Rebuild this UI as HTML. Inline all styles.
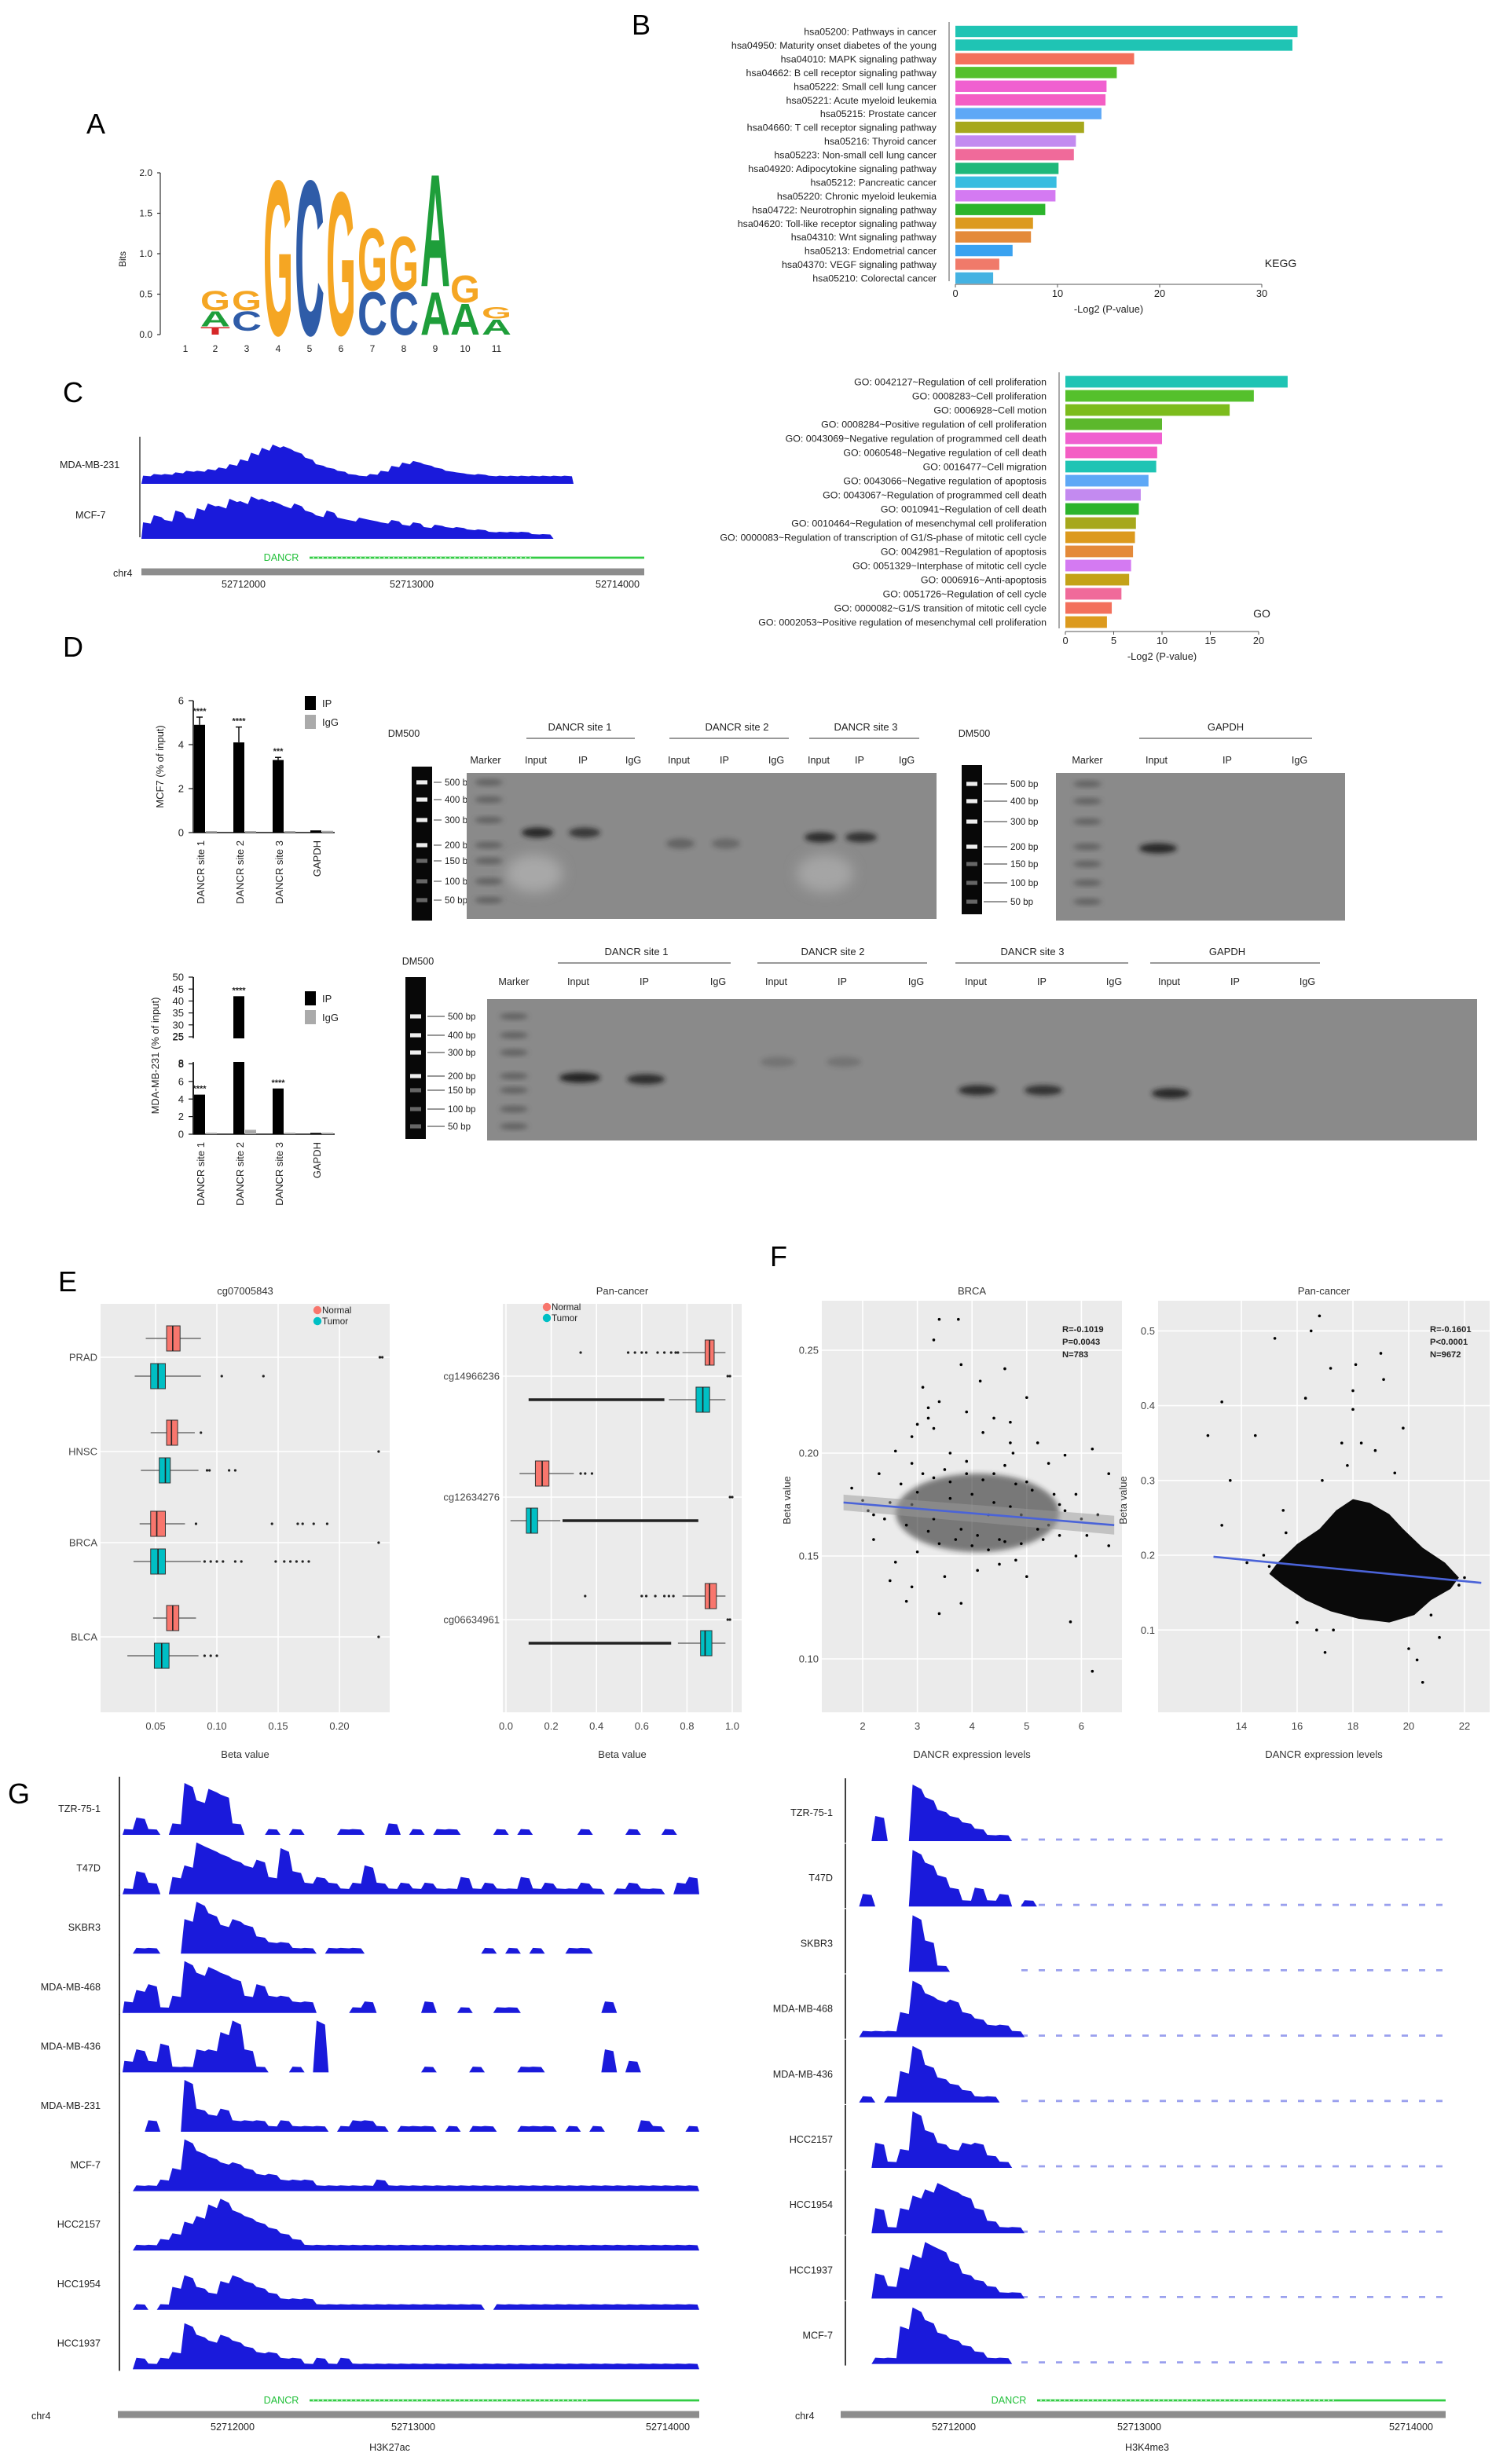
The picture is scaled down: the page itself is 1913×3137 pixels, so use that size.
<!DOCTYPE html>
<html><head><meta charset="utf-8">
<style>
html,body{margin:0;padding:0;background:#fff;}
svg{display:block;font-family:"Liberation Sans",sans-serif;}
</style></head>
<body>
<svg id="fig" width="1913" height="3137" viewBox="0 0 956.5 1568.5" preserveAspectRatio="none" xmlns="http://www.w3.org/2000/svg">
<defs>
<filter id="blur1" x="-50%" y="-50%" width="200%" height="200%"><feGaussianBlur stdDeviation="1.6"/></filter>
<filter id="blur2" x="-50%" y="-50%" width="200%" height="200%"><feGaussianBlur stdDeviation="4"/></filter>
</defs>
</svg>
<script>
// ---------------- DATA ----------------
const keggLabels=["hsa05200: Pathways in cancer","hsa04950: Maturity onset diabetes of the young","hsa04010: MAPK signaling pathway","hsa04662: B cell receptor signaling pathway","hsa05222: Small cell lung cancer","hsa05221: Acute myeloid leukemia","hsa05215: Prostate cancer","hsa04660: T cell receptor signaling pathway","hsa05216: Thyroid cancer","hsa05223: Non-small cell lung cancer","hsa04920: Adipocytokine signaling pathway","hsa05212: Pancreatic cancer","hsa05220: Chronic myeloid leukemia","hsa04722: Neurotrophin signaling pathway","hsa04620: Toll-like receptor signaling pathway","hsa04310: Wnt signaling pathway","hsa05213: Endometrial cancer","hsa04370: VEGF signaling pathway","hsa05210: Colorectal cancer"];
const keggValues=[33.5,33,17.5,15.8,14.8,14.7,14.3,12.6,11.8,11.6,10.1,9.9,9.8,8.8,7.6,7.4,5.6,4.3,3.7];
const keggColors=["#1fc4b4","#1fc4b4","#f3705c","#55c02c","#f060d0","#f45ec4","#5ea8f6","#a6a81c","#c38af0","#f06a9a","#1fb87a","#38bde0","#d47af2","#2cb42c","#dc9a1e","#e48a3a","#3aa2f0","#f07a6a","#44b2e2"];
const keggTicks=[0,10,20,30];

const goLabels=["GO: 0042127~Regulation of cell proliferation","GO: 0008283~Cell proliferation","GO: 0006928~Cell motion","GO: 0008284~Positive regulation of cell proliferation","GO: 0043069~Negative regulation of programmed cell death","GO: 0060548~Negative regulation of cell death","GO: 0016477~Cell migration","GO: 0043066~Negative regulation of apoptosis","GO: 0043067~Regulation of programmed cell death","GO: 0010941~Regulation of cell death","GO: 0010464~Regulation of mesenchymal cell proliferation","GO: 0000083~Regulation of transcription of G1/S-phase of mitotic cell cycle","GO: 0042981~Regulation of apoptosis","GO: 0051329~Interphase of mitotic cell cycle","GO: 0006916~Anti-apoptosis","GO: 0051726~Regulation of cell cycle","GO: 0000082~G1/S transition of mitotic cell cycle","GO: 0002053~Positive regulation of mesenchymal cell proliferation"];
const goValues=[23,19.5,17,10,10,9.5,9.4,8.6,7.8,7.6,7.3,7.2,7,6.8,6.6,5.8,4.8,4.3];
const goColors=["#1fc4b4","#55c02c","#7cbc1c","#5cb82c","#f060d0","#f45ec4","#1fc4b4","#5ea8f6","#c38af0","#2cb42c","#a6a81c","#dc9a1e","#e48a3a","#d47af2","#c4a218","#f06a9a","#f3705c","#dc9a1e"];
const goTicks=[0,5,10,15,20];

const qpcrCats=["DANCR site 1","DANCR site 2","DANCR site 3","GAPDH"];
const mcf7IP=[4.9,4.1,3.3,0.1];
const mcf7IgG=[0.05,0.05,0.05,0.08];
const mcf7Err=[0.35,0.7,0.12,0];
const mcf7Stars=["****","****","***",""];
const mdaIP=[4.5,42,5.2,0.15];
const mdaIgG=[0.1,0.5,0.05,0.1];
const mdaStars=["****","****","****",""];

const boxCatsL=["PRAD","HNSC","BRCA","BLCA"];
// [whiskerLo, q1, median, q3, whiskerHi]
const boxNormalL=[[0.042,0.059,0.064,0.070,0.087],[0.046,0.059,0.063,0.068,0.082],[0.037,0.046,0.051,0.058,0.074],[0.048,0.059,0.064,0.069,0.083]];
const boxTumorL=[[0.033,0.046,0.052,0.058,0.087],[0.038,0.053,0.058,0.062,0.085],[0.032,0.046,0.052,0.058,0.087],[0.027,0.049,0.055,0.061,0.085]];
const outNormalL=[[0.233,0.235],[0.087],[0.083,0.145,0.166,0.17,0.179,0.19],[]];
const outTumorL=[[0.104,0.138,0.233],[0.092,0.094,0.11,0.115,0.232],[0.09,0.095,0.1,0.105,0.115,0.12,0.148,0.155,0.16,0.165,0.17,0.175,0.232],[0.09,0.095,0.1,0.232]];
const ticksL=[0.05,0.10,0.15,0.20];

const boxCatsR=["cg14966236","cg12634276","cg06634961"];
const boxNormalR=[[0.78,0.88,0.9,0.92,0.97],[0.06,0.13,0.16,0.19,0.30],[0.78,0.88,0.9,0.93,0.97]];
const boxTumorR=[[0.72,0.84,0.87,0.9,0.97],[0.02,0.09,0.11,0.14,0.24],[0.76,0.86,0.88,0.91,0.97]];
const outNormalR=[[0.33,0.54,0.57,0.6,0.62,0.67,0.7,0.73,0.75,0.76,0.98,0.99],[0.33,0.35,0.38,0.99,1.0],[0.35,0.6,0.62,0.66,0.7,0.72,0.74,0.98,0.99]];
const outTumorRange=[[0.1,0.7],[0.25,0.85],[0.1,0.73]];
const ticksR=[0,0.2,0.4,0.6,0.8,1.0];

const brcaX=[3.4,3.75,3.3,3.8,4.6,4.15,3.1,5,3.4,3.2,3.9,4.4,3.2,3.0,4.7,3.3,4.2,2.9,5.2,4.7,6.2,2.6,3.6,4.75,5.7,2.9,5.4,6.5,1.8,5.9,2.2,2.6,2.5,2.9,2.8,3.8,3.4,5.8,6.2,6.1,6.5,5.9,3.0,4.5,4.1,5.0,3.5,4.8,2.3,2.5,2.7,2.8,3.1,3.3,3.5,3.6,3.7,3.9,4.0,4.2,4.3,4.4,4.6,4.8,4.9,5.1,5.3,5.5,5.6,2.4,3.2,3.4,4.1,4.5,5.0,5.2,2.2,2.9,3.8,4.4,4.9,5.4,3.6,4.0,4.3,4.7,3.0,3.3,5.7,6.0,2.0,2.1,6.3,5.6,3.9,4.6];
const brcaY=[0.265,0.265,0.255,0.243,0.241,0.235,0.232,0.227,0.225,0.222,0.22,0.217,0.217,0.214,0.215,0.212,0.21,0.208,0.205,0.205,0.202,0.201,0.2,0.2,0.199,0.195,0.195,0.19,0.183,0.18,0.158,0.147,0.138,0.135,0.128,0.127,0.122,0.118,0.094,0.16,0.155,0.15,0.152,0.146,0.143,0.14,0.14,0.148,0.19,0.176,0.185,0.165,0.19,0.188,0.192,0.186,0.158,0.19,0.155,0.187,0.153,0.19,0.157,0.185,0.156,0.182,0.158,0.18,0.16,0.168,0.162,0.156,0.16,0.158,0.186,0.163,0.17,0.175,0.163,0.176,0.17,0.165,0.178,0.18,0.17,0.174,0.181,0.168,0.172,0.168,0.177,0.172,0.17,0.175,0.196,0.194];
const brcaStats=["R=-0.1019","P=0.0043","N=783"];
const brcaFit=[0.176,0.165];
const brcaXTicks=[2,3,4,5,6];
const brcaYTicks=[0.10,0.15,0.20,0.25];

const panX=[16.8,15.2,16.5,19.0,18.1,17.2,19.1,16.3,13.3,18.0,18.0,19.8,12.8,14.5,17.6,18.3,13.6,15.5,13.3,16.7,17.0,20.3,20.0,20.5,21.1,16.0,17.3,14.8,15.0,22.0,21.8,19.5,18.8,17.8,16.9,20.8,14.2,15.6];
const panY=[0.52,0.49,0.5,0.47,0.455,0.45,0.435,0.41,0.405,0.42,0.395,0.37,0.36,0.36,0.35,0.35,0.3,0.26,0.24,0.1,0.07,0.06,0.075,0.03,0.09,0.11,0.1,0.2,0.185,0.17,0.16,0.31,0.34,0.32,0.3,0.12,0.19,0.23];
const panStats=["R=-0.1601","P<0.0001","N=9672"];
const panFit=[0.198,0.163];
const panXTicks=[14,16,18,20,22];
const panYTicks=[0.1,0.2,0.3,0.4,0.5];
// density core outline of the pan-cancer scatter (x expression, y beta)
const panCoreX=[15.3,16,16.8,17.4,18,18.6,19.3,19.8,20.5,21.3,21.8,21.5,20.8,20.2,19.3,18.2,17.2,16.3,15.5,15.0];
const panCoreY=[0.19,0.215,0.235,0.26,0.275,0.27,0.255,0.235,0.21,0.19,0.17,0.155,0.14,0.12,0.11,0.115,0.125,0.14,0.16,0.175];

const trackNamesL=["TZR-75-1","T47D","SKBR3","MDA-MB-468","MDA-MB-436","MDA-MB-231","MCF-7","HCC2157","HCC1954","HCC1937"];
const trackDataL=[
[1,3,1,0,2,9,6,8,7,2,0,0,1,0,1,0,0,0,1,1,0,0,2,0,1,0,1,1,0,0,0,1,0,1,0,0,0,0,1,0,0,0,1,0,0,1,0,0],
[1,4,2,0,3,5,9,8,7,6,5,6,3,8,4,2,3,2,1,2,5,2,1,2,1,2,1,1,3,1,2,1,1,3,1,2,1,1,2,1,0,1,2,1,1,0,2,3],
[0,1,1,0,0,6,9,7,5,6,5,3,2,2,1,1,0,1,1,1,0,0,0,0,0,0,0,0,0,0,1,0,1,0,1,0,0,1,1,0,0,0,0,0,0,0,0,0],
[2,4,5,1,3,9,7,8,7,6,3,5,3,3,2,2,0,0,0,1,2,0,0,0,0,2,0,0,1,0,0,1,1,0,0,0,0,0,0,0,2,0,0,0,0,0,0,0],
[2,4,2,5,1,1,4,4,7,9,4,1,0,0,1,0,9,0,0,0,0,0,0,0,0,1,0,0,0,1,0,0,0,1,1,0,0,0,0,0,4,0,2,0,0,0,0,0],
[0,0,2,0,0,9,4,3,4,2,2,2,1,2,1,1,1,0,1,2,2,1,0,1,1,1,0,1,0,1,1,0,0,1,1,1,0,1,0,1,0,0,0,2,1,0,0,1],
[0,1,1,2,4,9,7,6,5,5,4,3,3,2,2,2,1,1,1,1,1,2,1,1,1,1,1,1,1,1,1,1,1,1,1,1,1,1,1,1,1,1,1,1,1,1,1,1],
[0,1,1,2,3,5,6,8,9,7,6,5,4,3,2,1,1,1,1,1,1,1,1,1,1,1,1,1,1,1,1,1,1,1,1,1,1,1,1,1,1,1,1,1,1,1,1,1],
[0,1,0,1,4,6,4,3,5,6,5,4,3,2,2,2,1,1,1,1,1,1,1,1,1,1,1,1,1,1,0,1,1,1,1,1,1,1,1,1,1,1,1,1,1,1,1,1],
[0,2,1,2,3,8,6,5,6,5,4,3,3,2,2,1,2,1,2,1,1,1,1,1,1,1,1,1,1,1,1,1,1,1,1,1,1,1,1,1,1,1,1,1,1,1,1,1]];
const trackNamesR=["TZR-75-1","T47D","SKBR3","MDA-MB-468","MDA-MB-436","HCC2157","HCC1954","HCC1937","MCF-7"];
const trackDataR=[
[0,0,4,0,0,9,7,5,4,3,2,1,1,0,0,0,0,0,0,0,0,0,0,0,0,0,0,0,0,0,0,0,0,0,0,0,0,0,0,0,0,0,0,0,0,0,0,0],
[0,2,0,0,0,9,7,5,3,1,3,1,2,0,1,0,0,0,0,0,0,0,0,0,0,0,0,0,0,0,0,0,0,0,0,0,0,0,0,0,0,0,0,0,0,0,0,0],
[0,0,0,0,0,9,5,1,0,0,0,0,0,0,0,0,0,0,0,0,0,0,0,0,0,0,0,0,0,0,0,0,0,0,0,0,0,0,0,0,0,0,0,0,0,0,0,0],
[0,1,1,1,4,9,7,6,6,4,3,2,2,1,0,0,0,0,0,0,0,0,0,0,0,0,0,0,0,0,0,0,0,0,0,0,0,0,0,0,0,0,0,0,0,0,0,0],
[0,1,0,1,5,9,6,4,3,2,1,1,0,0,0,0,0,0,0,0,0,0,0,0,0,0,0,0,0,0,0,0,0,0,0,0,0,0,0,0,0,0,0,0,0,0,0,0],
[0,0,4,1,3,9,6,4,3,4,4,2,1,0,0,0,0,0,0,0,0,0,0,0,0,0,0,0,0,0,0,0,0,0,0,0,0,0,0,0,0,0,0,0,0,0,0,0],
[0,0,4,1,4,6,7,8,7,6,4,2,1,1,0,0,0,0,0,0,0,0,0,0,0,0,0,0,0,0,0,0,0,0,0,0,0,0,0,0,0,0,0,0,0,0,0,0],
[0,0,4,2,5,7,9,8,6,4,3,2,1,1,0,0,0,0,0,0,0,0,0,0,0,0,0,0,0,0,0,0,0,0,0,0,0,0,0,0,0,0,0,0,0,0,0,0],
[0,0,1,1,6,9,7,5,4,3,2,1,1,0,0,0,0,0,0,0,0,0,0,0,0,0,0,0,0,0,0,0,0,0,0,0,0,0,0,0,0,0,0,0,0,0,0,0]];
const trackC231=[5,6,6,7,8,8,9,10,12,15,19,22,24,23,20,16,12,10,8,6,5,6,8,11,13,14,12,10,8,7,6,6,5,5,5,5,5,5,5,5];
const trackCMCF7=[7,10,8,12,9,13,15,14,17,16,18,17,16,14,15,12,10,12,9,8,9,8,7,8,6,7,5,6,5,5,4,4,3,3,3,3,2,2,0,0];

// ---------------- HELPERS ----------------
const NS="http://www.w3.org/2000/svg";
const svg=document.getElementById("fig");
function mk(tag,attrs,parent){const e=document.createElementNS(NS,tag);for(const k in attrs)e.setAttribute(k,attrs[k]);(parent||svg).appendChild(e);return e;}
function tx(str,x,y,size,anchor,parent,extra){const e=mk("text",Object.assign({x:x,y:y,"font-size":size,"text-anchor":anchor||"start",fill:"#222"},extra||{}),parent);e.textContent=str;return e;}
function grp(parent){return mk("g",{},parent);}

// panel letters
[["A",55,85],["B",402,22],["C",40,256],["D",40,418],["E",37,822],["F",490,806],["G",5,1148]].forEach(p=>{
  const t=tx(p[0],p[1],p[2],18,"start",svg,{fill:"#000"});
  
  
});

// ---------------- A: sequence logo ----------------
const gA=grp();


const bitsTicks=[0,0.5,1,1.5,2];
const yBit=b=>213-b*51.5;
mk("line",{x1:102,y1:yBit(0),x2:102,y2:yBit(2),stroke:"#333","stroke-width":0.6},gA);
bitsTicks.forEach(b=>{tx(b.toFixed(1),97,yBit(b)+2,6,"end",gA);mk("line",{x1:100,y1:yBit(b),x2:102,y2:yBit(b),stroke:"#333","stroke-width":0.6},gA);});
const bl=tx("Bits",80,165,6,"middle",gA,{transform:"rotate(-90 80 165)"});
const logoX=[118,137,157,177,197,217,237,257,277,296,316];
logoX.forEach((x,i)=>tx(String(i+1),x,224,6,"middle",gA));
const logoCols={G:"#f5a623",C:"#2f5ca8",A:"#1e9e3a",T:"#d62728"};
// [pos, letter, bitsTop, bitsBottom]
const logoStack=[[2,"G",0.55,0.3],[2,"A",0.3,0.1],[2,"T",0.1,0],[3,"G",0.55,0.3],[3,"C",0.3,0.05],[4,"G",2,0],[5,"C",2,0],[6,"G",1.85,0],[7,"G",1.35,0.55],[7,"C",0.55,0],[8,"G",1.25,0.55],[8,"C",0.55,0],[9,"A",2.05,0.6],[9,"A",0.55,0],[10,"G",0.75,0.4],[10,"A",0.4,0],[11,"G",0.35,0.2],[11,"A",0.2,0]];
logoStack.forEach(s=>{
  const x=logoX[s[0]-1],yt=yBit(s[2]),yb=yBit(s[3]),h=yb-yt,w=19;
  const t=mk("text",{x:0,y:0,"font-size":10,"font-weight":"bold",textLength:10,lengthAdjust:"spacingAndGlyphs",fill:logoCols[s[1]],transform:`translate(${x-w/2},${yb}) scale(${w/10},${h/7.3})`},gA);
  t.textContent=s[1];
  
  
});

// ---------------- bar chart helper (B, GO) ----------------
function hbar(labels,values,colors,ticks,x0,scale,yTop,step,barH,axisY,title,tagX,tagY,name){
  const g=grp();
  
  
  const xs=v=>x0+v*scale;
  mk("line",{x1:x0-4,y1:yTop-6,x2:x0-4,y2:axisY-2,stroke:"#555","stroke-width":0.5},g);
  labels.forEach((l,i)=>{
    const y=yTop+i*step;
    const lt=tx(l,x0-12,y+2.3,6.2,"end",g);
    
    
    const r=mk("rect",{x:x0,y:y-barH/2,width:xs(values[i])-x0,height:barH,fill:colors[i]},g);
    
    
  });
  mk("line",{x1:xs(ticks[0]),y1:axisY,x2:xs(ticks[ticks.length-1]),y2:axisY,stroke:"#555","stroke-width":0.5},g);
  ticks.forEach(t=>{mk("line",{x1:xs(t),y1:axisY,x2:xs(t),y2:axisY+2,stroke:"#555","stroke-width":0.5},g);tx(String(t),xs(t),axisY+8,6.4,"middle",g);});
  const xt=tx("-Log2 (P-value)",(xs(ticks[0])+xs(ticks[ticks.length-1]))/2,axisY+18,6.4,"middle",g);
  
  
  tx(title,tagX,tagY,7,"middle",g);
}
hbar(keggLabels,keggValues,keggColors,keggTicks,608,6.5,20,8.72,7.2,181,"KEGG",815,170,"kegg-bar-chart");
hbar(goLabels,goValues,goColors,goTicks,678,6.15,243,9.0,7.4,402,"GO",803,393,"go-bar-chart");

// ---------------- coverage helper ----------------
function coverage(g,vals,x0,x1,base,maxH,vmax,color){
  const n=vals.length,bw=(x1-x0)/n;
  let d=`M${x0},${base}`;
  vals.forEach((v,i)=>{const h=v/vmax*maxH;const xa=x0+i*bw;d+=` L${xa+bw*0.15},${base-h} L${xa+bw*0.85},${base-h*0.92}`;});
  d+=` L${x1},${base} Z`;
  return mk("path",{d:d,fill:color},g);
}

// ---------------- C ----------------
const gC=grp();


tx("MDA-MB-231",38,298,6.3,"start",gC);
tx("MCF-7",48,330,6.3,"start",gC);
mk("line",{x1:89,y1:278,x2:89,y2:342,stroke:"#333","stroke-width":0.7},gC);
const c1=coverage(gC,trackC231,90,365,308,25,24,"#1a1adb");


const c2=coverage(gC,trackCMCF7,90,365,343,27,18,"#1a1adb");


function locus(g,xa,xb,yBar,dx,dxEnd,chrX,tickXs){
  tx("DANCR",dx-18,yBar-7,6.3,"middle",g,{fill:"#22c03a"});
  mk("line",{x1:dx,y1:yBar-9,x2:dxEnd,y2:yBar-9,stroke:"#33cc44","stroke-width":1.4},g);
  mk("line",{x1:dx+2,y1:yBar-9,x2:dxEnd-70,y2:yBar-9,stroke:"#ffffff","stroke-width":0.6,"stroke-dasharray":"1 2"},g);
  tx("chr4",chrX,yBar+3,6.3,"start",g);
  mk("rect",{x:xa,y:yBar-2.2,width:xb-xa,height:4.4,fill:"#8d8d8d"},g);
  ["52712000","52713000","52714000"].forEach((l,i)=>tx(l,tickXs[i],yBar+10,6.3,"middle",g));
}
locus(gC,90,410,364,197,410,72,[155,262,393]);

// ---------------- D: qPCR bars ----------------
function qbar(name,ip,igg,err,stars,yTitle,cfg){
  const g=grp();
  
  
  const xc=[127,152,177,201];
  mk("line",{x1:123,y1:cfg.top,x2:123,y2:cfg.base,stroke:"#111","stroke-width":0.8},g);
  mk("line",{x1:123,y1:cfg.base,x2:213,y2:cfg.base,stroke:"#111","stroke-width":0.8},g);
  cfg.ticks.forEach(t=>{const y=cfg.ys(t);mk("line",{x1:120,y1:y,x2:123,y2:y,stroke:"#111","stroke-width":0.6},g);tx(String(t),117,y+2.3,6.5,"end",g);});
  ip.forEach((v,i)=>{
    const yv=cfg.ys(v);
    const r=mk("rect",{x:xc[i]-3.5,y:yv,width:7,height:cfg.base-yv,fill:"#000"},g);
    
    
    const gy=cfg.ys(igg[i]);
    const r2=mk("rect",{x:xc[i]+4,y:Math.min(gy,cfg.base-1),width:7,height:Math.max(cfg.base-gy,1),fill:"#aaa"},g);
    
    
    if(err&&err[i]){const ye=cfg.ys(v+err[i]);mk("line",{x1:xc[i],y1:yv,x2:xc[i],y2:ye,stroke:"#000","stroke-width":0.7},g);mk("line",{x1:xc[i]-2,y1:ye,x2:xc[i]+2,y2:ye,stroke:"#000","stroke-width":0.7},g);}
    if(stars[i]){const ys=cfg.ys(v+(err&&err[i]?err[i]:0));tx(stars[i],xc[i],Math.max(ys,cfg.top)-2,5.5,"middle",g,{"font-weight":"bold"});}
    tx(qpcrCats[i],0,0,6.5,"end",g,{transform:`translate(${xc[i]+3},${cfg.base+5}) rotate(-90)`});
  });
  mk("rect",{x:194,y:cfg.legY,width:7,height:9,fill:"#000"},g);
  tx("IP",205,cfg.legY+7,6.5,"start",g);
  mk("rect",{x:194,y:cfg.legY+12,width:7,height:9,fill:"#aaa"},g);
  tx("IgG",205,cfg.legY+19,6.5,"start",g);
  tx(yTitle,0,0,6.5,"middle",g,{transform:`translate(${cfg.titleX},${(cfg.top+cfg.base)/2}) rotate(-90)`});
  return g;
}
qbar("mcf7-chip-qpcr-chart",mcf7IP,mcf7IgG,mcf7Err,mcf7Stars,"MCF7 (% of input)",{top:446,base:530,ticks:[0,2,4,6],ys:v=>530-v*14,legY:443,titleX:104});
// broken axis for MDA-MB-231
const mdaYs=v=> v<=8 ? 722-v*5.6 : (v<25?677: 660-(v-25)*1.52);
const gM=qbar("mda-mb-231-chip-qpcr-chart",mdaIP,mdaIgG,null,mdaStars,"MDA-MB-231 (% of input)",{top:622,base:722,ticks:[0,2,4,6,8,25,30,35,40,45,50],ys:mdaYs,legY:631,titleX:101});
mk("rect",{x:118,y:661,width:40,height:15,fill:"#fff"},gM);
tx("8",117,679,6.5,"end",gM);tx("25",117,662,6.5,"end",gM);
mk("line",{x1:123,y1:622,x2:123,y2:660,stroke:"#111","stroke-width":0.8},gM);
mk("line",{x1:123,y1:677,x2:123,y2:722,stroke:"#111","stroke-width":0.8},gM);

// ---------------- D: gels ----------------
function ladder(g,x,y0,y1,labX,bp){
  const r=mk("rect",{x:x,y:y0,width:13,height:y1-y0,fill:"#080808"},g);
  
  
  bp.forEach((b,i)=>{
    const bright=i<4;
    mk("rect",{x:x+3,y:b[1]-1.3,width:7,height:2.6,fill:bright?"#eee":"#666"},g);
    mk("line",{x1:x+14,y1:b[1],x2:labX-2,y2:b[1],stroke:"#777","stroke-width":0.7},g);
    tx(b[0]+" bp",labX,b[1]+2,5.8,"start",g);
  });
}
function gel(g,x,y,w,h){
  const r=mk("rect",{x:x,y:y,width:w,height:h,fill:"#8a8a8a"},g);
  
  
}
function band(g,x,y,w,op){const e=mk("ellipse",{cx:x,cy:y,rx:w/2,ry:3.2,fill:"#1a1a1a",opacity:op,filter:"url(#blur1)"},g);}
function markerLane(g,x,ys){ys.forEach(y=>mk("ellipse",{cx:x,cy:y,rx:9,ry:2,fill:"#444",opacity:0.6,filter:"url(#blur1)"},g));}
function header(g,cols,y){cols.forEach(c=>tx(c[0],c[1],y,6.3,"middle",g));}
function groupTitle(g,t,x,y,xa,xb){tx(t,x,y,6.5,"middle",g);mk("line",{x1:xa,y1:y+5,x2:xb,y2:y+5,stroke:"#999","stroke-width":1},g);}

const gG1=grp();


tx("DM500",257,469,6.3,"middle",gG1);
ladder(gG1,262,488,586,283,[[500,498],[400,509],[300,522],[200,538],[150,548],[100,561],[50,573]]);
gel(gG1,297,492,299,93);
mk("ellipse",{cx:340,cy:556,rx:18,ry:12,fill:"#a8a8a8",filter:"url(#blur2)"},gG1);
mk("ellipse",{cx:525,cy:556,rx:18,ry:12,fill:"#a5a5a5",filter:"url(#blur2)"},gG1);
markerLane(gG1,311,[498,509,522,538,548,561,573]);
header(gG1,[["Marker",309],["Input",341],["IP",371],["IgG",403],["Input",432],["IP",461],["IgG",494],["Input",521],["IP",547],["IgG",577]],486);
groupTitle(gG1,"DANCR site 1",369,465,335,404);groupTitle(gG1,"DANCR site 2",469,465,426,502);groupTitle(gG1,"DANCR site 3",551,465,515,585);
band(gG1,342,530,20,0.9);band(gG1,372,530,20,0.75);band(gG1,433,537,18,0.35);band(gG1,462,537,18,0.3);band(gG1,522,533,20,0.85);band(gG1,548,533,20,0.8);

const gG2=grp();


tx("DM500",620,469,6.3,"middle",gG2);
ladder(gG2,612,487,582,643,[[500,499],[400,510],[300,523],[200,539],[150,550],[100,562],[50,574]]);
gel(gG2,672,492,184,94);
markerLane(gG2,692,[499,510,523,539,550,562,574]);
header(gG2,[["Marker",692],["Input",736],["IP",781],["IgG",827]],486);
groupTitle(gG2,"GAPDH",780,465,725,835);
band(gG2,737,540,24,0.9);

const gG3=grp();


tx("DM500",266,614,6.3,"middle",gG3);
ladder(gG3,258,622,725,285,[[500,647],[400,659],[300,670],[200,685],[150,694],[100,706],[50,717]]);
gel(gG3,310,636,630,90);
markerLane(gG3,327,[647,659,670,685,694,706,717]);
header(gG3,[["Marker",327],["Input",368],["IP",410],["IgG",457],["Input",494],["IP",536],["IgG",583],["Input",621],["IP",663],["IgG",709],["Input",744],["IP",786],["IgG",832]],627);
groupTitle(gG3,"DANCR site 1",405,608,355,465);groupTitle(gG3,"DANCR site 2",530,608,482,590);groupTitle(gG3,"DANCR site 3",657,608,608,718);groupTitle(gG3,"GAPDH",781,608,732,840);
band(gG3,369,686,26,0.95);band(gG3,411,687,24,0.85);band(gG3,495,676,22,0.2);band(gG3,537,676,22,0.2);band(gG3,622,694,24,0.85);band(gG3,664,694,24,0.8);band(gG3,745,696,24,0.9);

// ---------------- E: box plots ----------------
function boxPanel(name,title,cats,normal,tumor,outN,outTumor,ticks,cfg){
  const g=grp();
  
  
  mk("rect",{x:cfg.x0,y:830,width:cfg.x1-cfg.x0,height:260,fill:"#ebebeb"},g);
  const xs=v=>cfg.px0+(v-cfg.v0)*cfg.k;
  ticks.forEach(t=>{mk("line",{x1:xs(t),y1:830,x2:xs(t),y2:1090,stroke:"#fff","stroke-width":0.8},g);tx(cfg.fmt(t),xs(t),1101,6.5,"middle",g,{fill:"#444"});});
  cats.forEach((c,i)=>{
    const yc=cfg.yc[i];
    mk("line",{x1:cfg.x0,y1:yc,x2:cfg.x1,y2:yc,stroke:"#fff","stroke-width":0.8},g);
    tx(c,cfg.x0-2,yc+2.3,6.5,"end",g,{fill:"#444"});
    [[normal[i],yc-cfg.off,"#f8766d","normal"],[tumor[i],yc+cfg.off,"#00bfc4","tumor"]].forEach(b=>{
      const s=b[0],y=b[1];
      mk("line",{x1:xs(s[0]),y1:y,x2:xs(s[4]),y2:y,stroke:"#555","stroke-width":0.6},g);
      const r=mk("rect",{x:xs(s[1]),y:y-cfg.bh/2,width:xs(s[3])-xs(s[1]),height:cfg.bh,fill:b[2],stroke:"#333","stroke-width":0.5},g);
      
      
      mk("line",{x1:xs(s[2]),y1:y-cfg.bh/2,x2:xs(s[2]),y2:y+cfg.bh/2,stroke:"#222","stroke-width":0.8},g);
    });
    (outN[i]||[]).forEach(v=>mk("circle",{cx:xs(v),cy:v>cfg.farCut?yc:yc-cfg.off,r:0.8,fill:"#222"},g));
    if(Array.isArray(outTumor[i][0])||outTumor[i].length!==2||cfg.ranges===false){
      outTumor[i].forEach(v=>mk("circle",{cx:xs(v),cy:v>cfg.farCut?yc:yc+cfg.off,r:0.8,fill:"#222"},g));
    } else {
      const rr=outTumor[i];
      mk("line",{x1:xs(rr[0]),y1:yc+cfg.off,x2:xs(rr[1]),y2:yc+cfg.off,stroke:"#222","stroke-width":1.8},g);
    }
  });
  tx(title,(cfg.x0+cfg.x1)/2,824,6.5,"middle",g,{fill:"#333"});
  tx("Beta value",(cfg.x0+cfg.x1)/2,1119,6.5,"middle",g,{fill:"#333"});
  mk("circle",{cx:cfg.legX,cy:cfg.legY,r:2.6,fill:"#f8766d"},g);tx("Normal",cfg.legX+3,cfg.legY+2,5.8,"start",g);
  mk("circle",{cx:cfg.legX,cy:cfg.legY+7,r:2.6,fill:"#00bfc4"},g);tx("Tumor",cfg.legX+3,cfg.legY+9,5.8,"start",g);
}
boxPanel("methylation-boxplot-cg07005843","cg07005843",boxCatsL,boxNormalL,boxTumorL,outNormalL,outTumorL,ticksL,
  {x0:64,x1:248,px0:99,v0:0.05,k:780,yc:[864,924,982,1042],off:12,bh:16,fmt:t=>t.toFixed(2),farCut:0.2,legX:202,legY:834,ranges:false});
boxPanel("methylation-boxplot-pan-cancer","Pan-cancer",boxCatsR,boxNormalR,boxTumorR,outNormalR,outTumorRange,ticksR,
  {x0:320,x1:472,px0:322,v0:0,k:144,yc:[876,953,1031],off:15,bh:16,fmt:t=>t.toFixed(1),farCut:0.975,legX:348,legY:832});

// ---------------- F: scatter ----------------
function scatter(name,title,X,Y,stats,fit,xt,yt,cfg){
  const g=grp();
  
  
  mk("rect",{x:cfg.x0,y:828,width:cfg.x1-cfg.x0,height:262,fill:"#ebebeb"},g);
  const xs=v=>cfg.px+(v-cfg.vx)*cfg.kx, ys=v=>cfg.py-(v-cfg.vy)*cfg.ky;
  xt.forEach(t=>{mk("line",{x1:xs(t),y1:828,x2:xs(t),y2:1090,stroke:"#fff","stroke-width":0.8},g);tx(String(t),xs(t),1101,6.5,"middle",g,{fill:"#444"});});
  yt.forEach(t=>{mk("line",{x1:cfg.x0,y1:ys(t),x2:cfg.x1,y2:ys(t),stroke:"#fff","stroke-width":0.8},g);tx(cfg.fmt(t),cfg.x0-2,ys(t)+2.3,6.5,"end",g,{fill:"#444"});});
  if(cfg.core){
    let d="";cfg.core[0].forEach((v,i)=>{d+=(i?" L":"M")+xs(v)+","+ys(cfg.core[1][i]);});
    const c=mk("path",{d:d+" Z",fill:"#0a0a0a"},g);
    
    
  } else {
    const c=mk("ellipse",{cx:xs(4.1),cy:ys(0.171),rx:52,ry:25,fill:"#1a1a1a",opacity:0.55,filter:"url(#blur1)"},g);
    
    
  }
  X.forEach((v,i)=>{const p=mk("circle",{cx:xs(v),cy:ys(Y[i]),r:0.9,fill:"#000"},g);});
  const xa=cfg.fitX[0],xb=cfg.fitX[1];
  if(!cfg.core) mk("path",{d:`M${xs(xa)},${ys(fit[0])-5} L${xs(xb)},${ys(fit[1])-6} L${xs(xb)},${ys(fit[1])+6} L${xs(xa)},${ys(fit[0])+5} Z`,fill:"#999",opacity:0.5},g);
  const l=mk("line",{x1:xs(xa),y1:ys(fit[0]),x2:xs(xb),y2:ys(fit[1]),stroke:"#4a63d8","stroke-width":1.3},g);
  
  
  stats.forEach((s,i)=>tx(s,cfg.statX,848+i*8,5.6,"start",g,{"font-weight":"bold"}));
  tx(title,(cfg.x0+cfg.x1)/2,824,6.5,"middle",g,{fill:"#333"});
  tx("DANCR expression levels",(cfg.x0+cfg.x1)/2,1119,6.5,"middle",g,{fill:"#333"});
  tx("Beta value",0,0,6.5,"middle",g,{fill:"#333",transform:`translate(${cfg.x0-20},955) rotate(-90)`});
}
scatter("scatter-brca","BRCA",brcaX,brcaY,brcaStats,brcaFit,brcaXTicks,brcaYTicks,
  {x0:523,x1:714,px:549,vx:2,kx:34.8,py:925,vy:0.20,ky:1310,fmt:t=>t.toFixed(2),fitX:[1.65,6.6],statX:676});
scatter("scatter-pan-cancer","Pan-cancer",panX,panY,panStats,panFit,panXTicks,panYTicks,
  {x0:737,x1:948,px:790,vx:14,kx:17.75,py:990,vy:0.2,ky:476,fmt:t=>String(t),fitX:[13,22.6],statX:910,core:[panCoreX,panCoreY]});

// ---------------- G: tracks ----------------
function trackCol(name,names,data,cfg){
  const g=grp();
  
  
  names.forEach((n,i)=>{
    const base=cfg.base0+i*cfg.step;
    mk("line",{x1:cfg.x0-2,y1:base-cfg.maxH-4,x2:cfg.x0-2,y2:base+1,stroke:"#111","stroke-width":0.8},g);
    tx(n,cfg.labX,base-cfg.maxH/2+2,6.3,"end",g);
    if(cfg.dash) mk("line",{x1:cfg.x0+110,y1:base-1,x2:cfg.x1,y2:base-1,stroke:"#9aa0ee","stroke-width":1.4,"stroke-dasharray":"4 7"},g);
    const p=coverage(g,data[i],cfg.x0,cfg.x1,base,cfg.maxH,9,"#1a1adb");
    
    
  });
  locus(g,cfg.locA,cfg.x1,1537,cfg.dancrX,cfg.x1,cfg.chrX,cfg.ticks);
  tx(cfg.mark,cfg.markX,1560,6.3,"middle",g);
}
trackCol("h3k27ac-tracks",trackNamesL,trackDataL,{x0:78,x1:445,base0:1168,step:37.8,maxH:33,labX:64,locA:75,dancrX:197,chrX:20,ticks:[148,263,425],mark:"H3K27ac",markX:248});
trackCol("h3k4me3-tracks",trackNamesR,trackDataR,{x0:540,x1:920,base0:1172,step:41.6,maxH:36,labX:530,locA:535,dancrX:660,chrX:506,ticks:[607,725,898],mark:"H3K4me3",markX:730,dash:true});
</script>
</body></html>
